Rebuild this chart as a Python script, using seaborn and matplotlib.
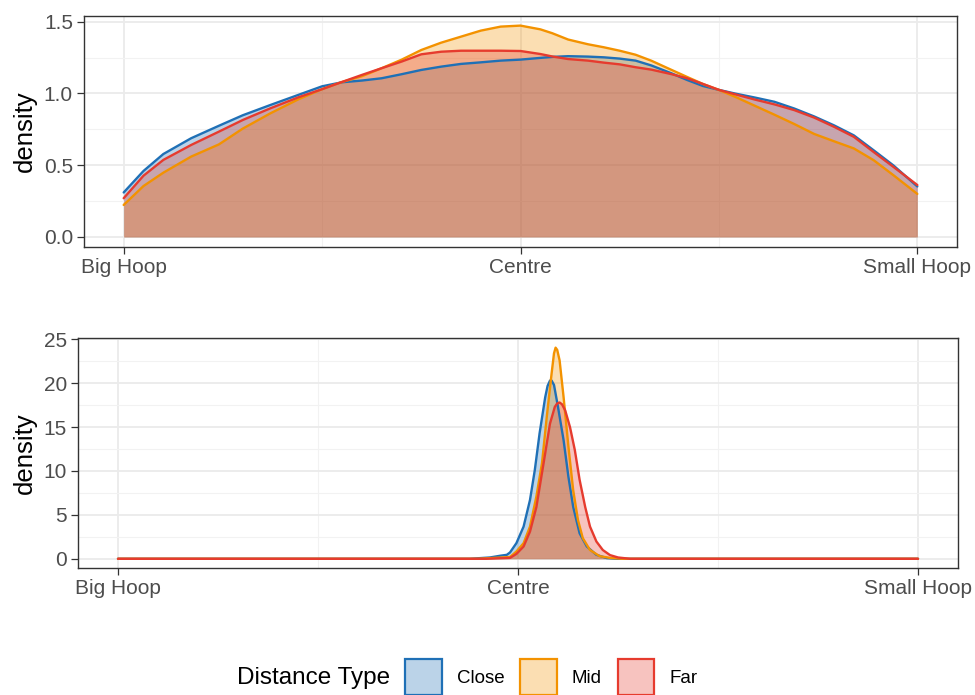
import matplotlib
matplotlib.use("Agg")
import matplotlib.pyplot as plt
from matplotlib.patches import Patch
from matplotlib.ticker import MultipleLocator, FixedLocator
import seaborn as sns
import pandas as pd

# ---------------- data ----------------
groups = ["Close", "Mid", "Far"]
colors = {"Close": "#1f70b6", "Mid": "#f39200", "Far": "#e63b2e"}

x_tick_pos = [0.0, 0.5, 1.0]
x_tick_labels = ["Big Hoop", "Centre", "Small Hoop"]

# Top panel: density of position across the hoop
top_x = [0.0, 0.025, 0.05, 0.085, 0.12, 0.15, 0.185, 0.22, 0.25, 0.275, 0.30,
         0.325, 0.35, 0.375, 0.40, 0.425, 0.45, 0.475, 0.50, 0.525, 0.54,
         0.56, 0.585, 0.605, 0.625, 0.645, 0.665, 0.69, 0.71, 0.73, 0.75,
         0.77, 0.795, 0.82, 0.845, 0.87, 0.895, 0.92, 0.945, 0.97, 1.0]
top_close = [0.31, 0.46, 0.578, 0.688, 0.775, 0.848, 0.92, 0.99, 1.05, 1.078, 1.09,
             1.106, 1.134, 1.164, 1.187, 1.206, 1.217, 1.229, 1.236, 1.248, 1.255,
             1.26, 1.257, 1.252, 1.243, 1.229, 1.195, 1.141, 1.094, 1.052, 1.025,
             1.0, 0.972, 0.942, 0.895, 0.84, 0.778, 0.708, 0.604, 0.498, 0.352]
top_mid = [0.223, 0.355, 0.448, 0.56, 0.645, 0.755, 0.862, 0.959, 1.03, 1.08, 1.12,
           1.176, 1.235, 1.303, 1.354, 1.396, 1.438, 1.466, 1.473, 1.447, 1.42,
           1.376, 1.343, 1.322, 1.298, 1.27, 1.228, 1.165, 1.115, 1.066, 1.025,
           0.978, 0.915, 0.852, 0.787, 0.718, 0.667, 0.617, 0.535, 0.43, 0.30]
top_far = [0.27, 0.427, 0.537, 0.641, 0.734, 0.815, 0.897, 0.973, 1.03, 1.08, 1.129,
           1.176, 1.222, 1.273, 1.291, 1.298, 1.298, 1.298, 1.296, 1.275, 1.258,
           1.24, 1.229, 1.215, 1.203, 1.183, 1.166, 1.135, 1.106, 1.066, 1.025,
           0.995, 0.958, 0.924, 0.884, 0.832, 0.768, 0.698, 0.592, 0.488, 0.362]

# Bottom panel: sharply peaked density near the centre
bot_close_x = [0.0, 0.44, 0.465, 0.478, 0.486, 0.490, 0.498, 0.507, 0.515, 0.521,
               0.527, 0.534, 0.537, 0.540, 0.542, 0.545, 0.550, 0.557, 0.563,
               0.569, 0.577, 0.586, 0.598, 0.611, 0.625, 1.0]
bot_close_y = [0.0, 0.0, 0.15, 0.35, 0.45, 0.72, 1.78, 3.67, 6.7, 10.1,
               14.3, 18.4, 19.7, 20.3, 20.3, 19.8, 17.3, 13.5, 9.35,
               5.9, 2.9, 1.4, 0.45, 0.08, 0.0, 0.0]
bot_mid_x = [0.0, 0.45, 0.49, 0.498, 0.507, 0.515, 0.523, 0.530, 0.536, 0.542,
             0.545, 0.547, 0.549, 0.552, 0.557, 0.563, 0.569, 0.575, 0.581,
             0.590, 0.602, 0.615, 0.63, 1.0]
bot_mid_y = [0.0, 0.0, 0.2, 0.83, 1.78, 3.67, 7.1, 10.9, 16.2, 21.1,
             23.4, 24.05, 23.8, 22.6, 18.4, 12.8, 7.8, 4.4, 2.35,
             1.0, 0.3, 0.1, 0.0, 0.0]
bot_far_x = [0.0, 0.46, 0.49, 0.498, 0.507, 0.515, 0.523, 0.532, 0.540, 0.546,
             0.549, 0.552, 0.555, 0.559, 0.565, 0.571, 0.577, 0.584, 0.590,
             0.598, 0.606, 0.615, 0.625, 0.64, 1.0]
bot_far_y = [0.0, 0.0, 0.1, 0.55, 1.4, 3.1, 5.9, 10.9, 15.4, 17.3,
             17.7, 17.8, 17.6, 16.9, 15.0, 12.4, 9.0, 5.9, 3.67,
             1.97, 1.0, 0.42, 0.15, 0.0, 0.0]

top_df = pd.concat([
    pd.DataFrame({"pos": top_x, "density": top_close, "type": "Close"}),
    pd.DataFrame({"pos": top_x, "density": top_mid, "type": "Mid"}),
    pd.DataFrame({"pos": top_x, "density": top_far, "type": "Far"}),
])
bot_df = pd.concat([
    pd.DataFrame({"pos": bot_close_x, "density": bot_close_y, "type": "Close"}),
    pd.DataFrame({"pos": bot_mid_x, "density": bot_mid_y, "type": "Mid"}),
    pd.DataFrame({"pos": bot_far_x, "density": bot_far_y, "type": "Far"}),
])

# ---------------- style ----------------
sns.set_style("white")
plt.rcParams["font.family"] = ["Liberation Sans", "DejaVu Sans"]

fig = plt.figure(figsize=(9.75, 6.95), dpi=100)
ax1 = fig.add_axes([84 / 975, 1 - 247 / 695, (957 - 84) / 975, (247 - 16) / 695])
ax2 = fig.add_axes([78 / 975, 1 - 568 / 695, (958 - 78) / 975, (568 - 338) / 695])

fill_alpha = 0.3


def draw_panel(ax, df, ylim, ymajor, yminor, label_x):
    ax.set_xlim(-0.05, 1.05)
    ax.set_ylim(*ylim)
    ax.xaxis.set_minor_locator(FixedLocator([0.25, 0.75]))
    ax.yaxis.set_minor_locator(MultipleLocator(yminor))
    ax.grid(which="major", color="#ebebeb", lw=1.3, zorder=0)
    ax.grid(which="minor", color="#f2f2f2", lw=0.8, zorder=0)
    ax.set_axisbelow(True)
    for g in groups:
        sub = df[df["type"] == g]
        ax.fill_between(sub["pos"], 0, sub["density"], color=colors[g],
                        alpha=fill_alpha, lw=0, zorder=2)
        sns.lineplot(data=sub, x="pos", y="density", color=colors[g], lw=1.7,
                     ax=ax, legend=False, zorder=3, estimator=None, sort=False)
    ax.set_xticks(x_tick_pos)
    ax.set_xticklabels(x_tick_labels)
    ax.set_xlabel("")
    ax.set_ylabel("density", fontsize=18.5, color="black")
    ax.yaxis.set_label_coords(label_x, 0.5)
    ax.tick_params(axis="both", which="major", direction="out", length=5,
                   width=0.9, color="#333333", labelsize=15, labelcolor="#4d4d4d",
                   pad=3, left=True, bottom=True)
    ax.tick_params(axis="both", which="minor", length=0)
    for sp in ax.spines.values():
        sp.set_visible(True)
        sp.set_color("#333333")
        sp.set_linewidth(1.0)


draw_panel(ax1, top_df, (-0.07, 1.54), 0.5, 0.25, -0.054)
ax1.set_yticks([0.0, 0.5, 1.0, 1.5])
ax1.set_yticklabels(["0.0", "0.5", "1.0", "1.5"])
draw_panel(ax2, bot_df, (-1.05, 25.15), 5, 2.5, -0.047)
ax2.set_yticks([0, 5, 10, 15, 20, 25])
ax2.set_yticklabels(["0", "5", "10", "15", "20", "25"])

# ---------------- legend ----------------
fig.text(237 / 975, 1 - 678 / 695, "Distance Type", fontsize=17.5,
         ha="left", va="center", color="black")
handles = []
for g in groups:
    handles.append(Patch(facecolor=matplotlib.colors.to_rgba(colors[g], fill_alpha),
                         edgecolor=colors[g], lw=1.6))
leg = fig.legend(handles, groups, loc="center left",
                 bbox_to_anchor=(405 / 975, 1 - 677 / 695), ncol=3,
                 frameon=False, fontsize=13.5, handlelength=1.95,
                 handleheight=2.5, handletextpad=0.8, columnspacing=0.85,
                 borderpad=0, borderaxespad=0)
for t in leg.get_texts():
    t.set_color("black")

fig.savefig("out.png", dpi=100)
